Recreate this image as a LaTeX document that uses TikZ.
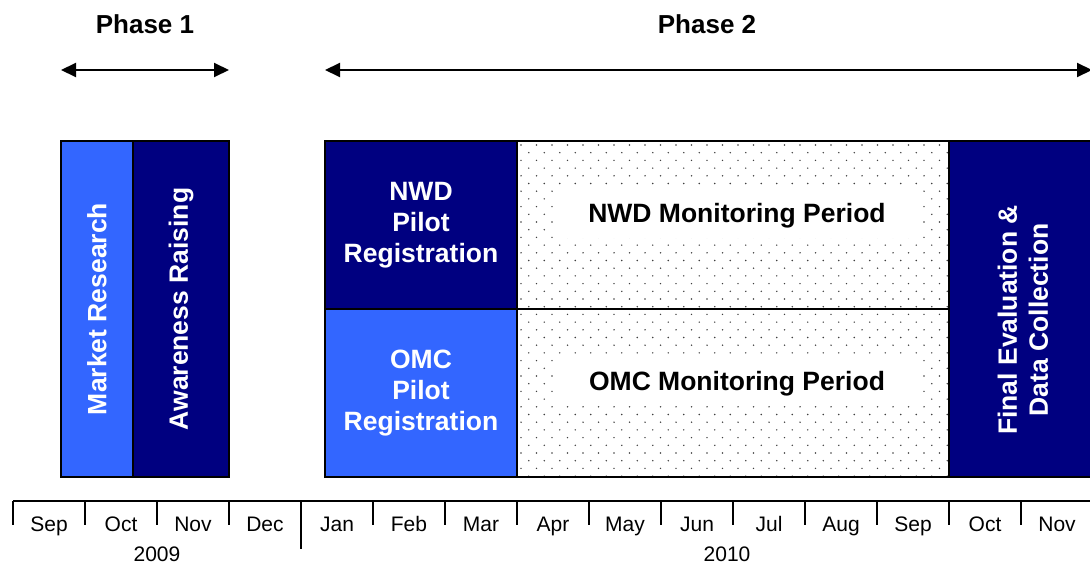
\documentclass[tikz,border=0pt]{standalone}
\usepackage{fontspec}
\setmainfont{Liberation Sans}
\usetikzlibrary{arrows.meta,positioning}
\definecolor{navy}{HTML}{000080}
\definecolor{lightblue}{HTML}{3366FF}

\begin{document}
\begin{tikzpicture}[
        x=1pt, y=-1pt,
        block/.style={rectangle, draw=black, line width=2pt, inner sep=0pt, align=center, text=white, font=\fontsize{26.5}{31}\selectfont\bfseries},
        darkbox/.style={block, fill=navy},
        lightbox/.style={block, fill=lightblue},
        monbox/.style={rectangle, draw=black, line width=2pt, minimum width=432pt, minimum height=168pt, inner sep=0pt},
        monlabel/.style={rectangle, fill=white, minimum width=363pt, minimum height=50pt, text depth=0pt, font=\fontsize{26.5}{31}\selectfont\bfseries},
        phaselabel/.style={font=\fontsize{26}{30}\selectfont\bfseries},
        span/.style={{Triangle[length=15pt, width=14pt]}-{Triangle[length=15pt, width=14pt]}, line width=2pt},
        month/.style={anchor=base, font=\fontsize{21}{24}\selectfont},
        tick/.style={line width=2pt}
    ]
        \useasboundingbox (0,0) rectangle (1090,567);

        % Phase headings
        \node[phaselabel] (phase1) at (145,24) {Phase 1};
        \node[phaselabel] (phase2) at (707,24) {Phase 2};
        \coordinate (p1l) at (61,70);
        \coordinate (p1r) at (229,70);
        \coordinate (p2l) at (325,70);
        \coordinate (p2r) at (1092,70);
        \draw[span] (p1l) -- (p1r);
        \draw[span] (p2l) -- (p2r);

        % Phase 1 blocks
        \node[lightbox, rotate=90, minimum width=336pt, minimum height=72pt] (market) at (97,309) {Market Research};
        \node[darkbox, rotate=90, minimum width=336pt, minimum height=96pt] (aware) at (181,309) {Awareness Raising};

        % Pilot registration
        \node[darkbox, minimum width=192pt, minimum height=168pt] (nwdpilot) at (421,225) {NWD\\Pilot\\Registration};
        \node[lightbox, minimum width=192pt, minimum height=168pt] (omcpilot) at (421,393) {OMC\\Pilot\\Registration};

        % Monitoring periods (dotted)
        \begin{scope}
            \clip (517,141) rectangle (949,477);
            \foreach \r in {0,...,44} {
                \foreach \c in {0,...,28} {
                    \fill[black!75] ({517+4+15.5*\c+7.75*mod(\r,2)},{141+4+7.7*\r}) circle (0.8pt);
                }
            }
        \end{scope}
        \node[monbox] (nwdmon) at (733,225) {};
        \node[monbox] (omcmon) at (733,393) {};
        \node[monlabel] (nwdlabel) at (737,213) {NWD Monitoring Period};
        \node[monlabel] (omclabel) at (737,381) {OMC Monitoring Period};

        % Final evaluation
        \node[darkbox, minimum width=144pt, minimum height=336pt] (final) at (1021,309) {};
        \node[block, draw=none, rotate=90] (finaltext) at (1023,320) {Final Evaluation \&\\Data Collection};

        % Timeline
        \coordinate (axisL) at (13,501);
        \coordinate (axisR) at (1092,501);
        \draw[tick] (axisL) -- (axisR);
        \foreach \m [count=\i from 0] in {Sep,Oct,Nov,Dec,Jan,Feb,Mar,Apr,May,Jun,Jul,Aug,Sep,Oct,Nov} {
            \coordinate (t\i) at ({13+72*\i},501);
            \ifnum\i=4
                \draw[tick] (t\i) -- ++(0,48);
            \else
                \draw[tick] (t\i) -- ++(0,24);
            \fi
            \node[month] (m\i) at ({49+72*\i},531) {\m};
        }
        \node[month] (y2009) at (157,561) {2009};
        \node[month] (y2010) at (727,561) {2010};
    \end{tikzpicture}
\end{document}
